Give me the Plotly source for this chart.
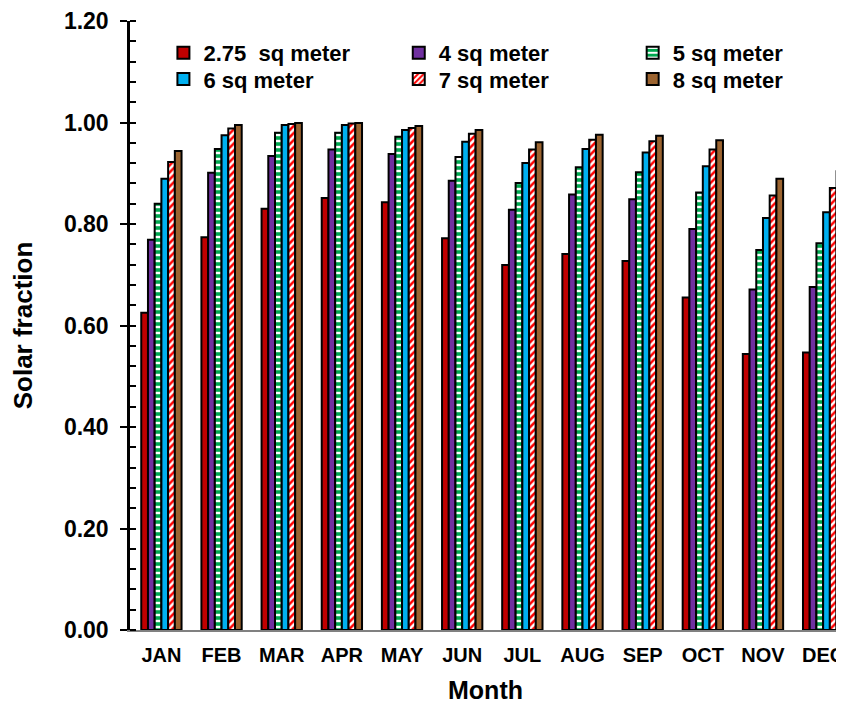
import plotly.graph_objects as go

months = ["JAN", "FEB", "MAR", "APR", "MAY", "JUN", "JUL", "AUG", "SEP", "OCT", "NOV", "DEC"]

sf_275 = [0.625, 0.774, 0.830, 0.851, 0.843, 0.772, 0.719, 0.741, 0.727, 0.655, 0.544, 0.547]
sf_4 = [0.769, 0.901, 0.934, 0.947, 0.938, 0.885, 0.828, 0.858, 0.849, 0.790, 0.671, 0.676]
sf_5 = [0.840, 0.948, 0.980, 0.980, 0.972, 0.932, 0.881, 0.912, 0.902, 0.862, 0.749, 0.762]
sf_6 = [0.889, 0.975, 0.995, 0.995, 0.985, 0.962, 0.920, 0.948, 0.941, 0.914, 0.812, 0.823]
sf_7 = [0.922, 0.988, 0.997, 0.998, 0.989, 0.978, 0.947, 0.966, 0.963, 0.947, 0.856, 0.871]
sf_8 = [0.944, 0.995, 0.999, 0.999, 0.993, 0.985, 0.961, 0.976, 0.974, 0.965, 0.889, 0.904]

series_names = ["2.75  sq meter", "4 sq meter", "5 sq meter", "6 sq meter", "7 sq meter", "8 sq meter"]
series_values = [sf_275, sf_4, sf_5, sf_6, sf_7, sf_8]

styles = [
    dict(color="#C00000"),
    dict(color="#7030A0"),
    dict(color="white", pattern=dict(shape="-", fgcolor="#00A84F", bgcolor="white", size=6, solidity=0.6,
                                     fillmode="overlay", fgopacity=1)),
    dict(color="#00B0F0"),
    dict(color="white", pattern=dict(shape="/", fgcolor="#FF0000", bgcolor="white", size=5, solidity=0.5,
                                     fillmode="overlay", fgopacity=1)),
    dict(color="#9C6430"),
]

legend_ids = ["legend", "legend2", "legend3", "legend4", "legend5", "legend6"]
# legend anchor positions (paper coords): 3 columns x 2 rows
col_x = [0.047, 0.378, 0.707]
row_y = [0.982, 0.939]

fig = go.Figure()
for i, (name, vals, st) in enumerate(zip(series_names, series_values, styles)):
    marker = dict(line=dict(color="black", width=2))
    marker.update(st)
    fig.add_trace(go.Bar(x=months, y=vals, name=name, marker=marker, legend=legend_ids[i]))

fam = "Liberation Sans, Arial, sans-serif"

legend_layout = {}
for i, lid in enumerate(legend_ids):
    legend_layout[lid] = dict(
        x=col_x[i % 3], xanchor="left", y=row_y[i // 3], yanchor="top",
        font=dict(size=22, family=fam, weight="bold", color="black"),
        bgcolor="rgba(0,0,0,0)", borderwidth=0,
    )

fig.update_layout(
    width=836, height=696,
    margin=dict(l=122, r=0, t=13, b=74),
    plot_bgcolor="white", paper_bgcolor="white",
    barmode="group", bargap=0.33, bargroupgap=0,
    font=dict(family=fam, color="black"),
    showlegend=True,
    xaxis=dict(
        type="category", range=[-0.522, 11.297],
        showline=True, linecolor="#808080", linewidth=2,
        ticks="", ticklabelstandoff=6,
        tickfont=dict(size=20, weight="bold"),
        title=dict(text="Month", font=dict(size=25, weight="bold"), standoff=16),
        showgrid=False, zeroline=False,
    ),
    yaxis=dict(
        range=[0, 1.2], dtick=0.2, tickformat=".2f",
        showline=True, linecolor="black", linewidth=2.5,
        ticks="outside", ticklen=7, tickwidth=2, tickcolor="black",
        ticklabelstandoff=7,
        tickfont=dict(size=23, weight="bold"),
        minor=dict(dtick=0.04, ticks="inside", ticklen=6, tickwidth=2, tickcolor="black", showgrid=False),
        title=dict(text="Solar fraction", font=dict(size=26, weight="bold"), standoff=25),
        showgrid=False, zeroline=False,
    ),
    yaxis2=dict(
        range=[0, 1.2], dtick=0.2, overlaying="y", anchor="x", side="left",
        ticks="inside", ticklen=7, tickwidth=2, tickcolor="black",
        showticklabels=False, showgrid=False, zeroline=False, showline=False,
    ),
    **legend_layout,
)

fig.write_html("out.html")
